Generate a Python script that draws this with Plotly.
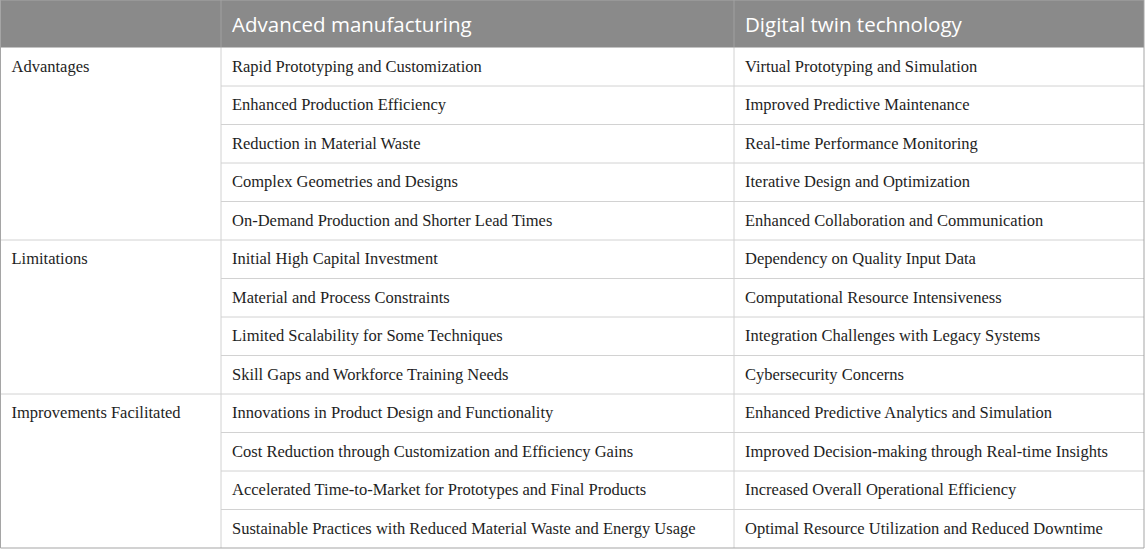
import plotly.graph_objects as go

# table content
headers = ["", "Advanced manufacturing", "Digital twin technology"]
groups = ["Advantages", "Limitations", "Improvements Facilitated"]
group_sizes = [5, 4, 4]
advanced_mfg = [
    "Rapid Prototyping and Customization",
    "Enhanced Production Efficiency",
    "Reduction in Material Waste",
    "Complex Geometries and Designs",
    "On-Demand Production and Shorter Lead Times",
    "Initial High Capital Investment",
    "Material and Process Constraints",
    "Limited Scalability for Some Techniques",
    "Skill Gaps and Workforce Training Needs",
    "Innovations in Product Design and Functionality",
    "Cost Reduction through Customization and Efficiency Gains",
    "Accelerated Time-to-Market for Prototypes and Final Products",
    "Sustainable Practices with Reduced Material Waste and Energy Usage",
]
digital_twin = [
    "Virtual Prototyping and Simulation",
    "Improved Predictive Maintenance",
    "Real-time Performance Monitoring",
    "Iterative Design and Optimization",
    "Enhanced Collaboration and Communication",
    "Dependency on Quality Input Data",
    "Computational Resource Intensiveness",
    "Integration Challenges with Legacy Systems",
    "Cybersecurity Concerns",
    "Enhanced Predictive Analytics and Simulation",
    "Improved Decision-making through Real-time Insights",
    "Increased Overall Operational Efficiency",
    "Optimal Resource Utilization and Reduced Downtime",
]

# layout in pixels
W, H = 1145, 549
head_h = 47.5
n_rows = len(advanced_mfg)
row_h = (548 - head_h) / n_rows
col_x = [0.5, 221, 734, 1144]
pad = 11
inner = "#d2d2d2"
outer = "#a5a5a5"
body_font = dict(family="Liberation Serif, DejaVu Serif, serif", size=16.5, color="#1e1e1e")

def row_mid(i):
    return head_h + (i + 0.5) * row_h + 1

def row_top(i):
    return head_h + i * row_h

fig = go.Figure()

shapes = [dict(type="rect", x0=col_x[0], x1=col_x[-1], y0=0, y1=head_h,
               fillcolor="#8a8a8a", line=dict(width=0), layer="below")]

# horizontal lines
starts = [0]
for s in group_sizes[:-1]:
    starts.append(starts[-1] + s)
for i in range(1, n_rows):
    x0 = col_x[0] if i in starts else col_x[1]
    shapes.append(dict(type="line", x0=x0, x1=col_x[-1], y0=row_top(i), y1=row_top(i),
                       line=dict(color=inner, width=1)))
# vertical lines
for x in col_x[1:3]:
    shapes.append(dict(type="line", x0=x, x1=x, y0=head_h, y1=row_top(n_rows),
                       line=dict(color=inner, width=1)))
    shapes.append(dict(type="line", x0=x, x1=x, y0=0, y1=head_h,
                       line=dict(color="#a0a0a0", width=1)))
# outer border
shapes.append(dict(type="rect", x0=col_x[0], x1=col_x[-1], y0=0, y1=row_top(n_rows),
                   line=dict(color=outer, width=1)))

# header text
fig.add_trace(go.Scatter(
    x=[col_x[1] + pad, col_x[2] + pad], y=[head_h / 2 + 3] * 2,
    text=headers[1:], mode="text", textposition="middle right",
    textfont=dict(family="Open Sans, Noto Sans, sans-serif", size=20.5, color="white"),
    hoverinfo="skip"))

# group labels
fig.add_trace(go.Scatter(
    x=[col_x[0] + pad] * len(groups), y=[row_mid(s) for s in starts],
    text=groups, mode="text", textposition="middle right",
    textfont=body_font, hoverinfo="skip"))

# body columns
for c, vals in enumerate([advanced_mfg, digital_twin]):
    fig.add_trace(go.Scatter(
        x=[col_x[c + 1] + pad] * n_rows, y=[row_mid(i) for i in range(n_rows)],
        text=vals, mode="text", textposition="middle right",
        textfont=body_font, hoverinfo="skip"))

fig.update_layout(
    width=W, height=H, margin=dict(l=0, r=0, t=0, b=0),
    paper_bgcolor="white", plot_bgcolor="white", showlegend=False,
    shapes=shapes,
    xaxis=dict(range=[0, W], visible=False, fixedrange=True),
    yaxis=dict(range=[H, 0], visible=False, fixedrange=True),
)

fig.write_html("out.html", config={"displayModeBar": False},
               post_script="document.body.style.margin='0';")
